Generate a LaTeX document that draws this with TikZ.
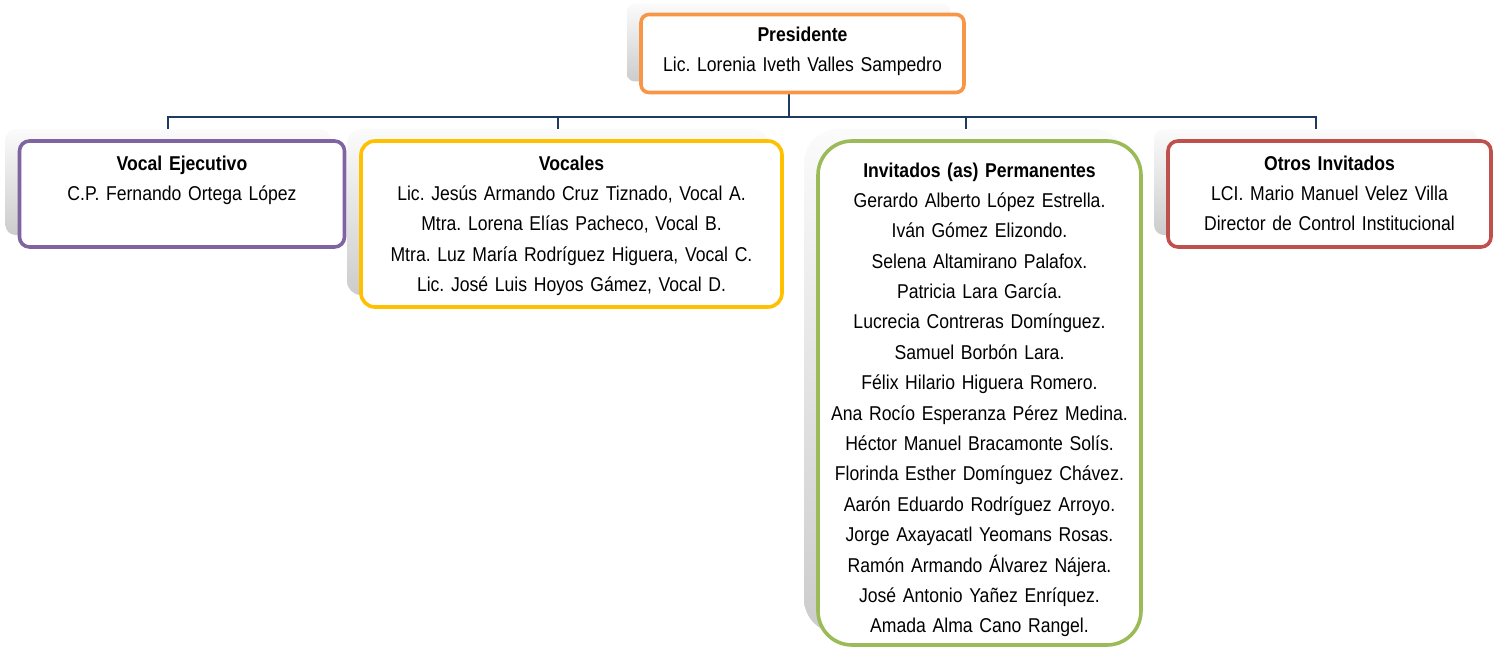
\documentclass[tikz,border=0pt]{standalone}
\usepackage{fontspec}
\setmainfont{Liberation Sans}[FakeStretch=0.88]
\frenchspacing
\usetikzlibrary{positioning}
\definecolor{presorange}{HTML}{F79646}
\definecolor{vepurple}{HTML}{8064A2}
\definecolor{vogold}{HTML}{FFC000}
\definecolor{ingreen}{HTML}{9BBB59}
\definecolor{otred}{HTML}{C0504D}
\definecolor{linknavy}{HTML}{1F3A60}
\newcommand{\orgfont}{\fontsize{10}{15.2}\selectfont\spaceskip=1.9pt plus 1pt minus 0.5pt\relax}
\begin{document}
\begin{tikzpicture}[x=0.5pt, y=-0.5pt,
  every node/.style={font=\orgfont},
  shade box/.style={rectangle, rounded corners=#1, inner sep=0pt, outer sep=0pt,
    top color=gray!3, bottom color=gray!40, draw=none},
  org box/.style={rectangle, rounded corners=#1, draw, line width=1.8pt, fill=white,
    align=center, inner xsep=4pt, inner ysep=5pt, outer sep=0pt, anchor=north west},
  link/.style={draw=linknavy, line width=1pt}]
  \useasboundingbox (0,0) rectangle (1496,647);
  \coordinate (bus) at (788,117);
  \node[shade box=4pt, minimum width=161.5pt, minimum height=39pt] (pres-sh) at (788.5,42.5) {};
  \node[shade box=5pt, minimum width=162.5pt, minimum height=53pt] (ve-sh) at (168,182) {};
  \node[shade box=7pt, minimum width=210.5pt, minimum height=83pt] (vo-sh) at (557.5,212) {};
  \node[shade box=17pt, minimum width=161.5pt, minimum height=252pt] (in-sh) at (965.5,381) {};
  \node[shade box=5pt, minimum width=161.5pt, minimum height=53pt] (ot-sh) at (1315.5,182) {};
  \draw[link] (pres-sh.south) -- (pres-sh.south |- bus);
  \draw[link] (ve-sh.north) -- (ve-sh.north |- bus) -- (ot-sh.north |- bus) -- (ot-sh.north);
  \draw[link] (vo-sh.north) -- (vo-sh.north |- bus);
  \draw[link] (in-sh.north) -- (in-sh.north |- bus);
  \node[org box=4pt, draw=presorange, text width=153.5pt, text height=8.5pt, text depth=20.5pt]
    (pres) at ([shift={(7pt,-5.5pt)}]pres-sh.north west)
    {\textbf{Presidente}\\Lic. Lorenia Iveth Valles Sampedro};
  \node[org box=5pt, draw=vepurple, text width=154.5pt, text height=9.5pt, text depth=33.5pt]
    (ve) at ([shift={(7pt,-6pt)}]ve-sh.north west)
    {\textbf{Vocal Ejecutivo}\\C.P. Fernando Ortega López};
  \node[org box=7pt, draw=vogold, text width=202.5pt, text height=9.5pt, text depth=63.5pt]
    (vo) at ([shift={(7pt,-6pt)}]vo-sh.north west)
    {\textbf{Vocales}\\Lic. Jesús Armando Cruz Tiznado, Vocal A.\\
     Mtra. Lorena Elías Pacheco, Vocal B.\\
     Mtra. Luz María Rodríguez Higuera, Vocal C.\\
     Lic. José Luis Hoyos Gámez, Vocal D.};
  \node[org box=17pt, draw=ingreen, text width=153.5pt, text height=13pt, text depth=229pt]
    (in) at ([shift={(7pt,-6pt)}]in-sh.north west)
    {\textbf{Invitados (as) Permanentes}\\Gerardo Alberto López Estrella.\\
     Iván Gómez Elizondo.\\
     Selena Altamirano Palafox.\\
     Patricia Lara García.\\
     Lucrecia Contreras Domínguez.\\
     Samuel Borbón Lara.\\
     Félix Hilario Higuera Romero.\\
     Ana Rocío Esperanza Pérez Medina.\\
     Héctor Manuel Bracamonte Solís.\\
     Florinda Esther Domínguez Chávez.\\
     Aarón Eduardo Rodríguez Arroyo.\\
     Jorge Axayacatl Yeomans Rosas.\\
     Ramón Armando Álvarez Nájera.\\
     José Antonio Yañez Enríquez.\\
     Amada Alma Cano Rangel.};
  \node[org box=5pt, draw=otred, text width=153.5pt, text height=9.5pt, text depth=33.5pt]
    (ot) at ([shift={(7pt,-6pt)}]ot-sh.north west)
    {\textbf{Otros Invitados}\\LCI. Mario Manuel Velez Villa\\Director de Control Institucional};
\end{tikzpicture}
\end{document}
